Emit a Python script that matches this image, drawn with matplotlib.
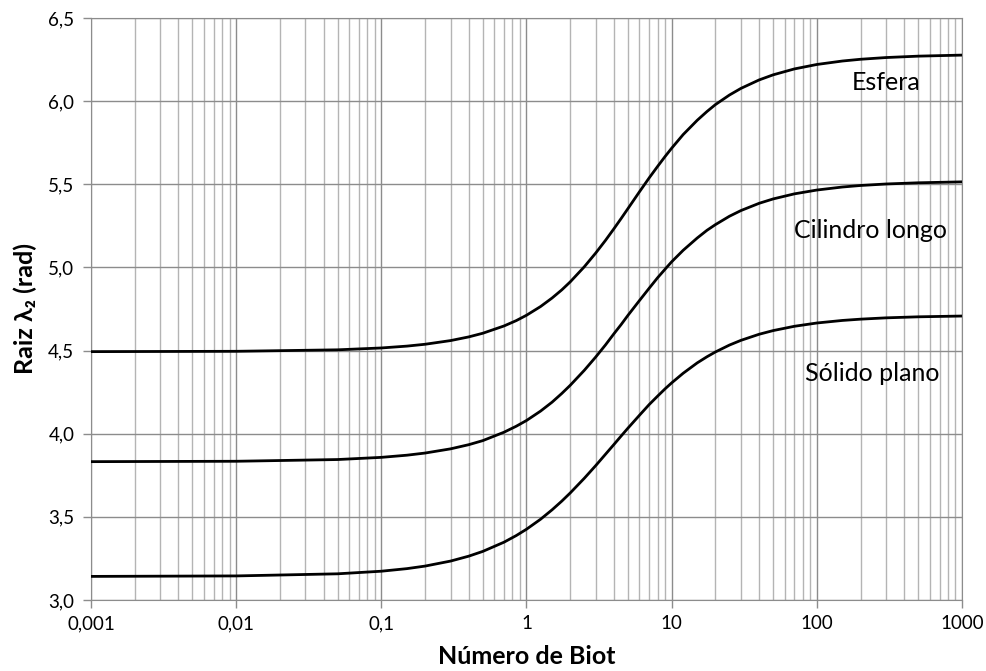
import numpy as np
import matplotlib
matplotlib.use("Agg")
import matplotlib.pyplot as plt
from matplotlib.ticker import FixedLocator, FuncFormatter, LogLocator, NullFormatter

# valores (numero de Biot x raiz lambda2)
biot = [0.001, 0.01, 0.05, 0.1, 0.15, 0.2, 0.3, 0.4, 0.5, 0.7, 0.85, 1, 1.25, 1.5,
        1.75, 2, 2.5, 3, 3.5, 4, 4.5, 5, 6, 7, 8, 9, 10, 12, 15, 17.5, 20, 25,
        30, 40, 50, 70, 100, 150, 200, 300, 500, 1000]

esfera = [4.4936, 4.4956, 4.5045, 4.5157, 4.5268, 4.5379, 4.5601, 4.5822, 4.6042,
          4.648, 4.6802, 4.7124, 4.7648, 4.816, 4.865, 4.913, 5.0037, 5.087, 5.1627,
          5.2325, 5.2959, 5.354, 5.455, 5.5385, 5.6075, 5.6667, 5.717, 5.799, 5.885,
          5.9375, 5.979, 6.0368, 6.0767, 6.1274, 6.1582, 6.1937, 6.2205, 6.2413,
          6.2518, 6.2622, 6.2706, 6.2769]

cilindro = [3.8320, 3.8343, 3.8447, 3.8578, 3.8708, 3.8837, 3.909, 3.934, 3.9585,
            4.009, 4.045, 4.0795, 4.136, 4.1897, 4.242, 4.291, 4.381, 4.4616, 4.534,
            4.601, 4.658, 4.712, 4.801, 4.875, 4.938, 4.989, 5.034, 5.103, 5.177,
            5.2232, 5.2572, 5.3078, 5.342, 5.3855, 5.4119, 5.4424, 5.4654, 5.4836,
            5.4928, 5.5018, 5.509, 5.5146]

plano = [3.1419, 3.1448, 3.1575, 3.1731, 3.1886, 3.2039, 3.2341, 3.2636, 3.2923,
         3.3477, 3.3875, 3.4256, 3.4857, 3.5423, 3.5946, 3.6436, 3.7318, 3.8086,
         3.8764, 3.935, 3.9875, 4.0336, 4.111, 4.1754, 4.226, 4.2696, 4.3058, 4.3636,
         4.426, 4.4627, 4.4915, 4.5331, 4.5615, 4.598, 4.6202, 4.646, 4.6658, 4.6812,
         4.6889, 4.6968, 4.7030, 4.7077]

rotulos = ["Esfera", "Cilindro longo", "Sólido plano"]
rot_x = [300, 234, 239]
rot_y = [6.11, 5.225, 4.365]

x_ticks = [0.001, 0.01, 0.1, 1, 10, 100, 1000]
x_labels = ["0,001", "0,01", "0,1", "1", "10", "100", "1000"]

plt.rcParams["font.family"] = ["Lato", "DejaVu Sans"]

fig = plt.figure(figsize=(9.87, 6.71), dpi=100)
ax = fig.add_axes([91/987, 71/671, 871/987, 582/671])

for serie in [esfera, cilindro, plano]:
    ax.plot(biot, serie, color="black", lw=2.0, zorder=3, solid_joinstyle="round")

ax.set_xscale("log")
ax.set_xlim(0.001, 1000)
ax.set_ylim(3.0, 6.5)

ax.xaxis.set_major_locator(FixedLocator(x_ticks))
ax.xaxis.set_major_formatter(FuncFormatter(lambda v, p: x_labels[x_ticks.index(v)] if v in x_ticks else ""))
ax.xaxis.set_minor_locator(LogLocator(base=10, subs=np.arange(2, 10), numticks=100))
ax.xaxis.set_minor_formatter(NullFormatter())
ax.set_yticks(np.arange(3.0, 6.51, 0.5))
ax.yaxis.set_major_formatter(FuncFormatter(lambda v, p: f"{v:.1f}".replace(".", ",")))

ax.grid(which="major", color="#8c8c8c", lw=1.0)
ax.grid(which="minor", axis="x", color="#b4b4b4", lw=1.0)
ax.tick_params(axis="both", which="major", length=6, color="#8c8c8c", labelsize=13.5, width=1)
ax.tick_params(axis="x", which="minor", length=0)
ax.tick_params(axis="x", pad=5)
ax.tick_params(axis="y", pad=6)
for s in ax.spines.values():
    s.set_color("#8c8c8c")

for t, x, y in zip(rotulos, rot_x, rot_y):
    ax.text(x, y, t, fontsize=18, ha="center", va="center", zorder=4)

ax.set_xlabel("Número de Biot", fontsize=18, fontweight="bold", labelpad=9)
ax.set_ylabel("Raiz λ₂ (rad)", fontsize=18, fontweight="bold", labelpad=8)

fig.savefig("out.png", dpi=100)
